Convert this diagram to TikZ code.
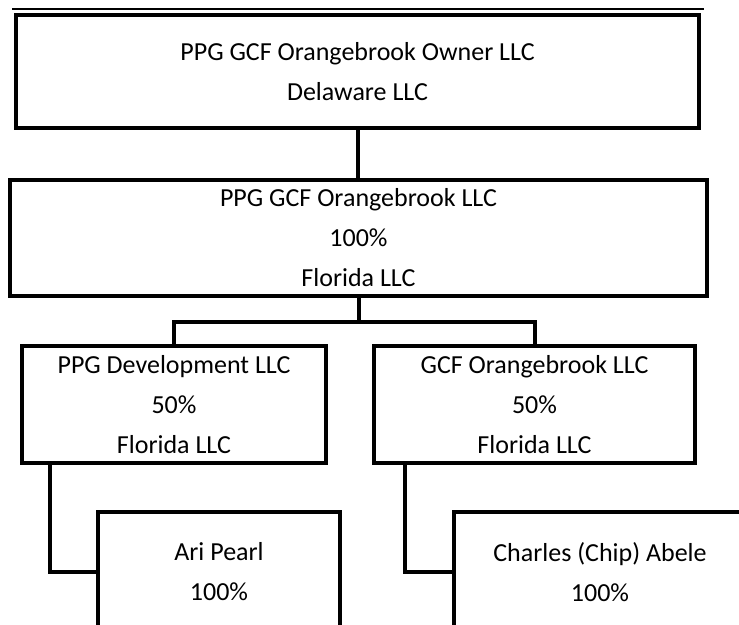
\documentclass[tikz,border=0pt]{standalone}
\usepackage{fontspec}
\setmainfont{Carlito}

\begin{document}
\begin{tikzpicture}[x=1pt,y=-1pt,
  box/.style={draw,line width=4pt,align=center,inner sep=0pt,
              font=\fontsize{26}{40}\selectfont},
  link/.style={line width=4pt}]
\useasboundingbox (0,0) rectangle (739,624);
\clip (0,0) rectangle (739,624);
\node[box,minimum width=683pt,minimum height=113pt] (owner) at (357.5,71.5) {PPG GCF Orangebrook Owner LLC\\Delaware LLC};
\node[box,minimum width=697pt,minimum height=116pt] (orange) at (358.5,238) {PPG GCF Orangebrook LLC\\100\%\\Florida LLC};
\node[box,minimum width=304pt,minimum height=117pt] (dev) at (174,404.5) {PPG Development LLC\\50\%\\Florida LLC};
\node[box,minimum width=321pt,minimum height=117pt] (gcf) at (534.5,404.5) {GCF Orangebrook LLC\\50\%\\Florida LLC};
\node[box,minimum width=242pt,minimum height=120pt] (ari) at (219,572) {Ari Pearl\\100\%};
\node[box,minimum width=292pt,minimum height=120pt] (chip) at (600,572) {Charles (Chip) Abele\\100\%};
\coordinate (bar) at (358.5,322);
\draw[line width=1.3pt] ([xshift=-2pt,yshift=4pt]owner.north west) -- ([xshift=3pt,yshift=4pt]owner.north east);
\draw[link] (owner.south) -- (owner.south |- orange.north);
\draw[link] (orange.south) -- (bar);
\draw[link] (dev.north) |- (bar) -| (gcf.north);
\draw[link] ([xshift=30pt]dev.south west) |- (ari.west);
\draw[link] ([xshift=33pt]gcf.south west) |- (chip.west);
\end{tikzpicture}
\end{document}
